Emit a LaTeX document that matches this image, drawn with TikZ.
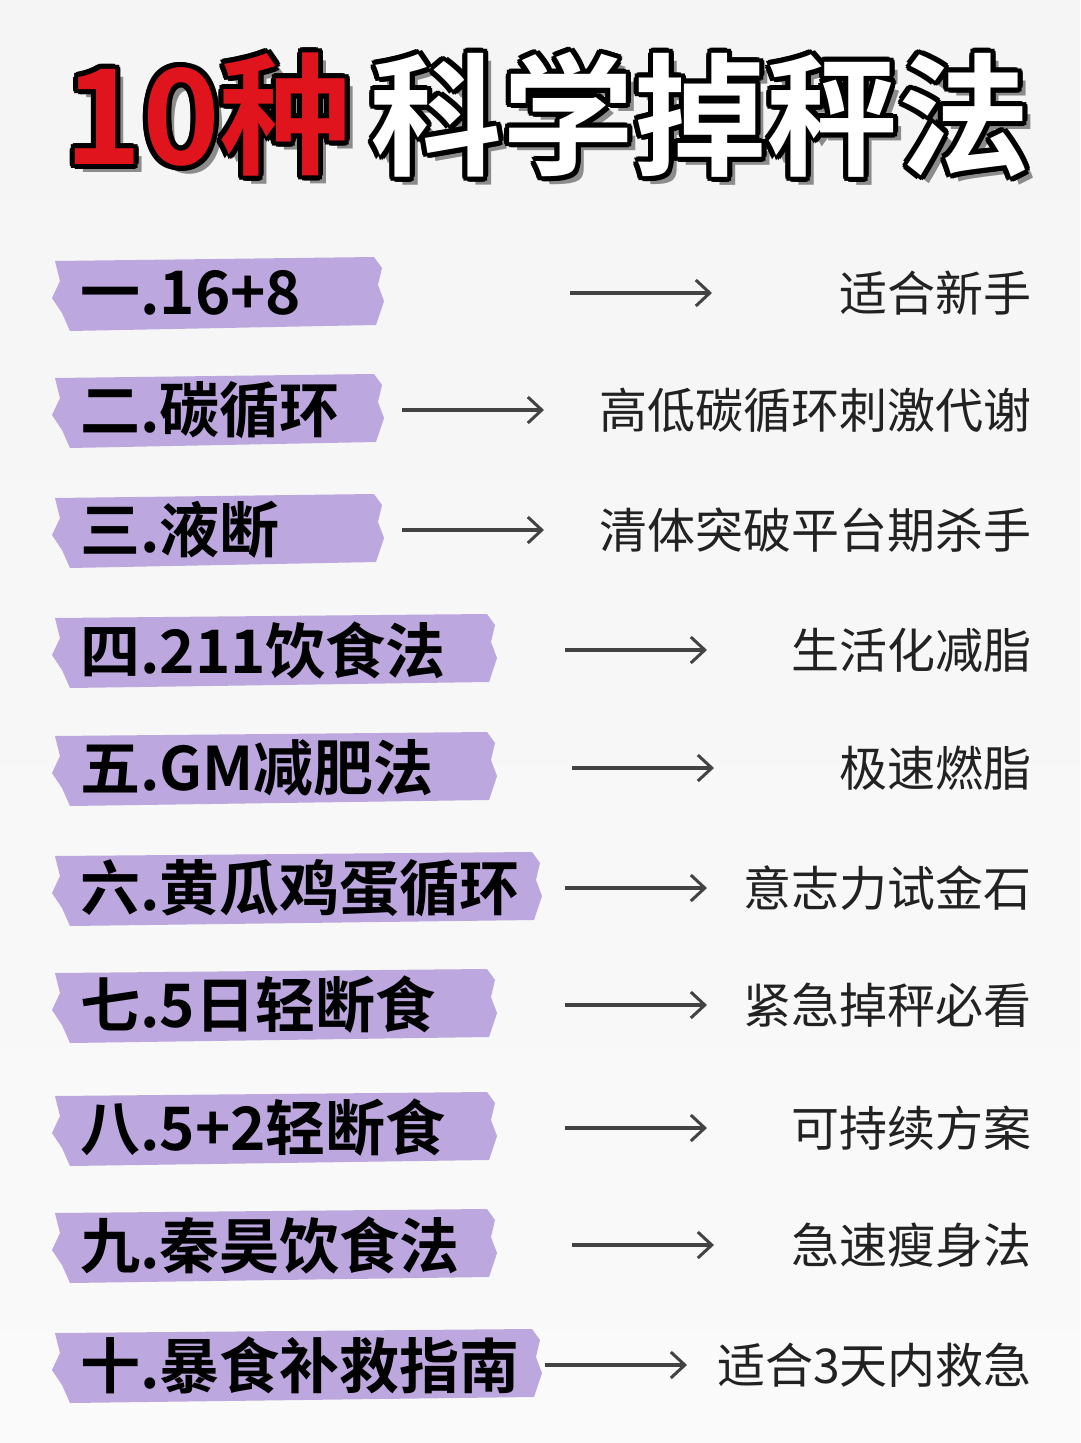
\documentclass[tikz,border=0pt]{standalone}
\usepackage{fontspec}
\newfontfamily\cjkb{Noto Sans CJK SC Bold}
\newfontfamily\cjkr{Noto Sans CJK SC}
\usetikzlibrary{arrows.meta}
\definecolor{bar}{HTML}{BCA8DE}
\definecolor{txt}{HTML}{222222}
\definecolor{tred}{HTML}{E0141C}
\tikzset{
  lbl/.style={anchor=west,font=\cjkb\fontsize{60}{64}\selectfont,text=black,inner sep=0},
  rlbl/.style={anchor=east,font=\cjkr\fontsize{48}{52}\selectfont,text=txt,inner sep=0},
  arr/.style={draw=txt!85,line width=3.5pt,-{Straight Barb[length=14pt,width=26pt,line width=3pt]}},
  brush/.style={fill=bar,draw=none},
  ttl/.style={anchor=west,inner sep=0,font=\cjkb\fontsize{132}{140}\selectfont}
}
\newcommand{\outl}[4]{% x,y,text,fill
  \foreach \dx/\dy in {-5/0,5/0,0/-5,0/5,-4/-4,4/4,-4/4,4/-4,-2/-5,2/5,-5/2,5/-2}{
    \node[ttl,text=black] at (#1+\dx,#2+\dy) {#3};}
  \node[ttl,text=#4] at (#1,#2) {#3};
}
\begin{document}
\begin{tikzpicture}[x=1pt,y=-1pt]
\useasboundingbox (0,0) rectangle (1080,1443);
\shade[top color=white!92!gray,bottom color=white!96!gray] (0,0) rectangle (1080,1443);
% title
\node[ttl,text=black!45] (t1s) at (72,123) {10种};
\outl{64}{115}{10种}{tred}
\node[ttl,text=black!45] (t2s) at (378,123) {科学掉秤法};
\outl{370}{115}{科学掉秤法}{white}
% rows
\foreach \y/\l/\r/\bx/\ax in {
 293/{一.16+8}/适合新手/382/570,
 410/{二.碳循环}/高低碳循环刺激代谢/382/402,
 530/{三.液断}/清体突破平台期杀手/382/402,
 650/{四.211饮食法}/生活化减脂/495/565,
 768/{五.GM减肥法}/极速燃脂/495/572,
 888/{六.黄瓜鸡蛋循环}/意志力试金石/540/565,
 1005/{七.5日轻断食}/紧急掉秤必看/495/565,
 1128/{八.5+2轻断食}/可持续方案/495/565,
 1245/{九.秦昊饮食法}/急速瘦身法/495/572,
 1365/{十.暴食补救指南}/适合3天内救急/540/545}{
  \fill[brush] (55,\y-32) -- (\bx-8,\y-36) -- (\bx,\y-25) -- (\bx-4,\y-8) -- (\bx+2,\y+8) -- (\bx-6,\y+32) -- (70,\y+38) -- (62,\y+20) -- (52,\y+5) -- (60,\y-12) -- cycle;
  \node[lbl] (l\y) at (80,\y) {\l};
  \node[rlbl] (r\y) at (1032,\y) {\r};
  \coordinate (a\y) at (\ax,\y);
  \coordinate (b\y) at (\ax+142,\y);
  \draw[arr] (a\y) -- (b\y);
}
\end{tikzpicture}
\end{document}
